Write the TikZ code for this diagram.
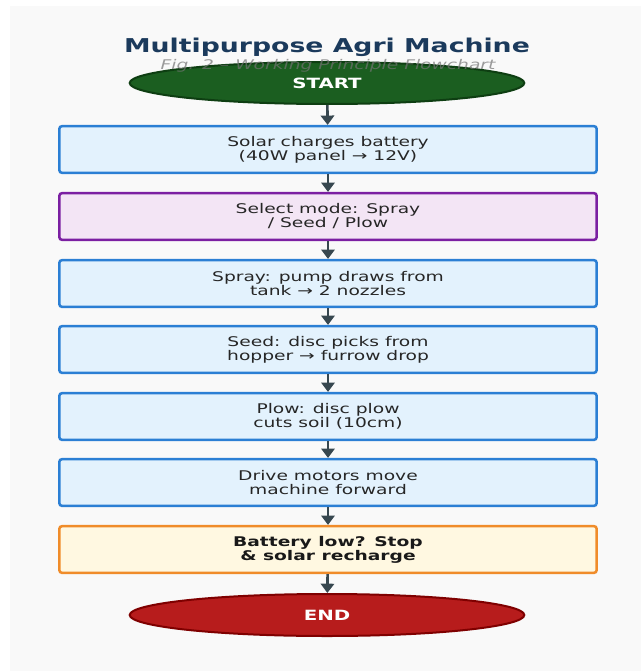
\documentclass[tikz,border=0pt]{standalone}
\usepackage{fontspec}
\setmainfont{DejaVu Sans}[FakeStretch=1.4]
\usetikzlibrary{arrows.meta,shapes.geometric}

\definecolor{titleblue}{HTML}{1B3A5C}
\definecolor{startfill}{HTML}{1B5E20}
\definecolor{startline}{HTML}{0E3E12}
\definecolor{endfill}{HTML}{B71C1C}
\definecolor{endline}{HTML}{7F0000}
\definecolor{stepfill}{HTML}{E3F2FD}
\definecolor{stepline}{HTML}{2B7FD4}
\definecolor{modefill}{HTML}{F3E5F5}
\definecolor{modeline}{HTML}{7B1FA2}
\definecolor{warnfill}{HTML}{FFF8E1}
\definecolor{warnline}{HTML}{F08C2A}
\definecolor{arrowgray}{HTML}{37474F}
\definecolor{bggray}{HTML}{F9F9F9}

\tikzset{
  stepbox/.style={draw=stepline, fill=stepfill, line width=1.9pt, rounded corners=2pt,
    minimum width=403pt, minimum height=35pt, align=center, text=black!85,
    font=\fontsize{10}{10.5}\selectfont},
  terminal/.style={ellipse, line width=1.5pt, minimum width=296pt, minimum height=31.5pt,
    text=white, font=\fontsize{10.6}{12}\selectfont\bfseries},
  flow/.style={draw=arrowgray, line width=2pt, -{Triangle[length=7pt,width=10pt]}}
}

\begin{document}
\begin{tikzpicture}[x=0.75pt,y=-0.75pt]
  \fill[white] (0,0) rectangle (641,671);
  \useasboundingbox (0,0) rectangle (641,671);
  \fill[bggray] (10,6) rectangle (641,671);

  \node[text=titleblue, font=\fontsize{14.3}{17}\selectfont\bfseries] (title) at (327,47) {Multipurpose Agri Machine};

  \node[terminal, draw=startline, fill=startfill] (start) at (327,83) {START};
  \node[text=black!55, opacity=0.7, font=\fontsize{10}{12}\selectfont\itshape] (subtitle) at (328,66) {Fig. 2 – Working Principle Flowchart};

  \node[stepbox] (solar) at (328,149.5) {Solar charges battery\\(40W panel → 12V)};
  \node[stepbox, draw=modeline, fill=modefill] (mode) at (328,216.5) {Select mode: Spray\\/ Seed / Plow};
  \node[stepbox] (spray) at (328,283.5) {Spray: pump draws from\\tank → 2 nozzles};
  \node[stepbox] (seed) at (328,349.5) {Seed: disc picks from\\hopper → furrow drop};
  \node[stepbox] (plow) at (328,416.5) {Plow: disc plow\\cuts soil (10cm)};
  \node[stepbox] (drive) at (328,482.5) {Drive motors move\\machine forward};
  \node[stepbox, draw=warnline, fill=warnfill, text=black!90, font=\fontsize{10}{10.5}\selectfont\bfseries] (battery) at (328,549.5) {Battery low? Stop\\\& solar recharge};

  \node[terminal, draw=endline, fill=endfill] (finish) at (327,615) {END};

  \draw[flow] (start) -- (solar);
  \draw[flow] (solar) -- (mode);
  \draw[flow] (mode) -- (spray);
  \draw[flow] (spray) -- (seed);
  \draw[flow] (seed) -- (plow);
  \draw[flow] (plow) -- (drive);
  \draw[flow] (drive) -- (battery);
  \draw[flow] (battery) -- (finish);
\end{tikzpicture}
\end{document}
